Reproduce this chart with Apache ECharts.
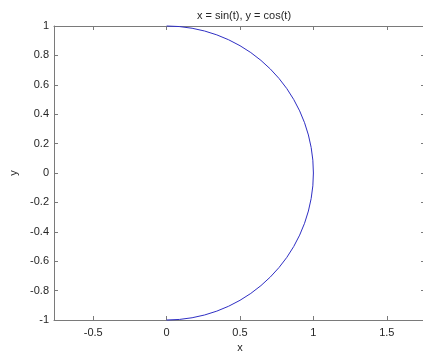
<!DOCTYPE html>
<html>
<head>
<meta charset="utf-8">
<script src="https://cdn.jsdelivr.net/npm/echarts@6/dist/echarts.min.js"></script>
<style>
  html, body { margin: 0; padding: 0; background: #fff; }
  #chart { width: 423px; height: 351px; }
</style>
</head>
<body>
<div id="chart"></div>
<script>
// Parametric curve samples: x = sin(t), y = cos(t), t from 0 to pi
const xValues = [
  0, 0.0872, 0.1736, 0.2588, 0.3420, 0.4226, 0.5, 0.5736, 0.6428, 0.7071,
  0.7660, 0.8192, 0.8660, 0.9063, 0.9397, 0.9659, 0.9848, 0.9962, 1,
  0.9962, 0.9848, 0.9659, 0.9397, 0.9063, 0.8660, 0.8192, 0.7660, 0.7071,
  0.6428, 0.5736, 0.5, 0.4226, 0.3420, 0.2588, 0.1736, 0.0872, 0
];
const yValues = [
  1, 0.9962, 0.9848, 0.9659, 0.9397, 0.9063, 0.8660, 0.8192, 0.7660, 0.7071,
  0.6428, 0.5736, 0.5, 0.4226, 0.3420, 0.2588, 0.1736, 0.0872, 0,
  -0.0872, -0.1736, -0.2588, -0.3420, -0.4226, -0.5, -0.5736, -0.6428, -0.7071,
  -0.7660, -0.8192, -0.8660, -0.9063, -0.9397, -0.9659, -0.9848, -0.9962, -1
];
const xTicks = [-0.5, 0, 0.5, 1, 1.5];
const yTicks = [-1, -0.8, -0.6, -0.4, -0.2, 0, 0.2, 0.4, 0.6, 0.8, 1];

const xRange = [-0.767, 1.767];
const yRange = [-1, 1];

const font = 'Liberation Sans, Arial, sans-serif';
const axisGray = '#7a7a7a';
const textColor = '#262626';

const points = xValues.map((x, i) => [x, yValues[i]]);

const chart = echarts.init(document.getElementById('chart'), null, { renderer: 'canvas' });

function xAxisDef(position, showLabel) {
  return {
    type: 'value',
    position: position,
    min: xRange[0],
    max: xRange[1],
    splitLine: { show: false },
    axisLine: { show: true, onZero: false, lineStyle: { color: axisGray, width: 1 } },
    axisTick: { show: true, inside: true, length: 4, customValues: xTicks, lineStyle: { color: axisGray } },
    axisLabel: {
      show: showLabel, customValues: xTicks, margin: 7,
      color: textColor, fontSize: 11, fontFamily: font,
      formatter: v => String(v)
    },
    name: showLabel ? 'x' : '',
    nameLocation: 'middle',
    nameGap: 22,
    nameTextStyle: { color: textColor, fontSize: 11, fontFamily: font }
  };
}

function yAxisDef(position, showLabel) {
  return {
    type: 'value',
    position: position,
    min: yRange[0],
    max: yRange[1],
    axisTick: { show: true, inside: true, length: showLabel ? 4 : 5, customValues: yTicks, lineStyle: { color: axisGray } },
    splitLine: { show: false },
    axisLine: { show: true, onZero: false, lineStyle: { color: axisGray, width: 1 } },
    axisLabel: {
      show: showLabel, customValues: yTicks, margin: 5,
      color: textColor, fontSize: 11, fontFamily: font,
      formatter: v => String(Math.round(v * 10) / 10)
    },
    name: showLabel ? 'y' : '',
    nameLocation: 'middle',
    nameGap: 34,
    nameTextStyle: { color: textColor, fontSize: 11, fontFamily: font }
  };
}

chart.setOption({
  animation: false,
  backgroundColor: '#ffffff',
  title: {
    text: 'x = sin(t), y = cos(t)',
    left: 239,
    top: 5,
    textAlign: 'center',
    textStyle: { color: textColor, fontSize: 11, fontWeight: 'normal', fontFamily: font }
  },
  grid: { left: 54, top: 26, width: 372, height: 294, containLabel: false, outerBoundsMode: 'none' },
  xAxis: [xAxisDef('bottom', true), xAxisDef('top', false)],
  yAxis: [yAxisDef('left', true), yAxisDef('right', false)],
  series: [{
    type: 'line',
    data: points,
    xAxisIndex: 0,
    yAxisIndex: 0,
    showSymbol: false,
    smooth: false,
    lineStyle: { color: '#2f2fc4', width: 1 },
    clip: false
  }]
});
</script>
</body>
</html>
